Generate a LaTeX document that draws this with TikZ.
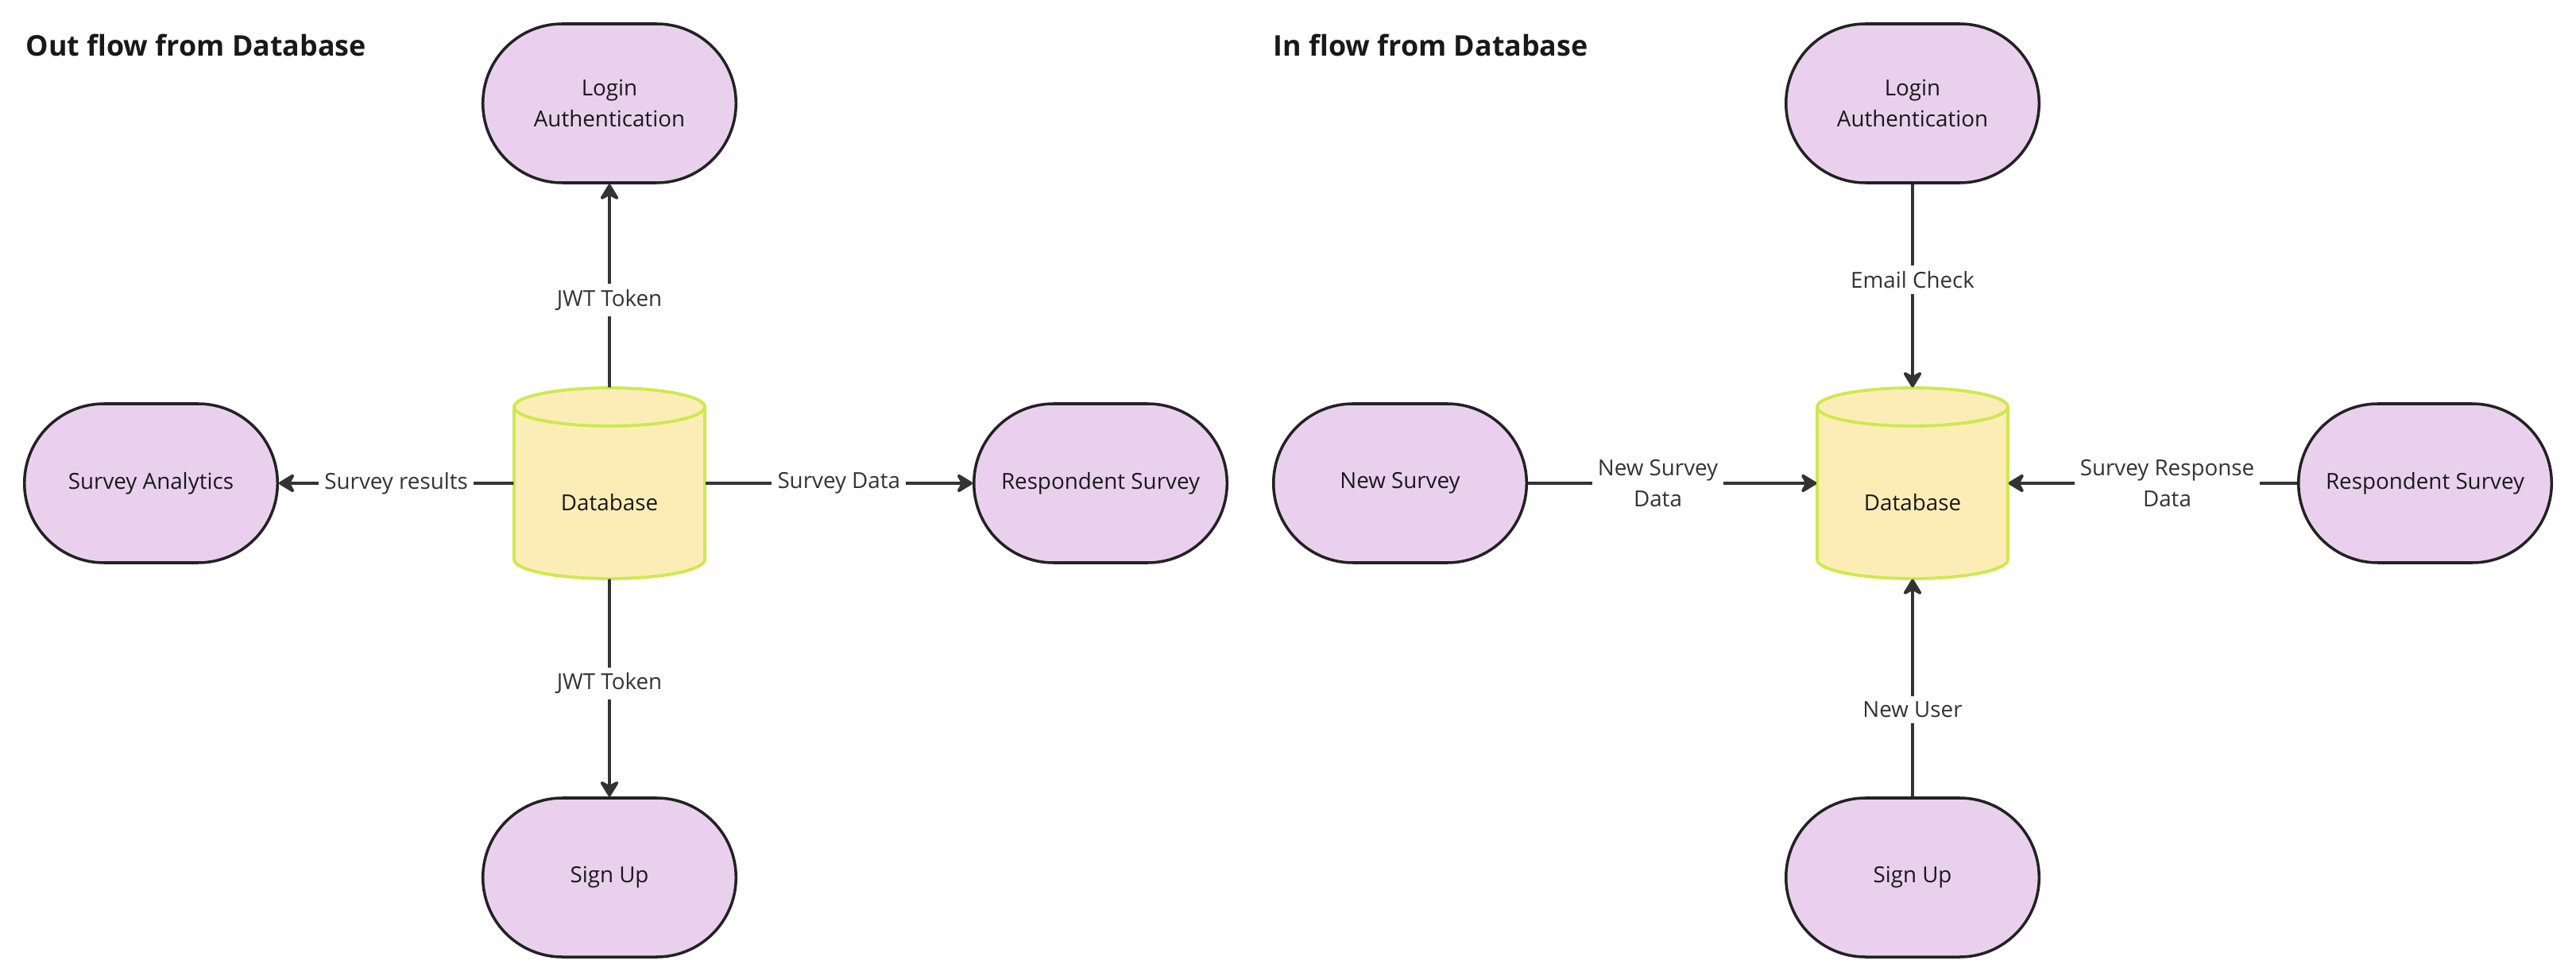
\documentclass[tikz,border=0pt]{standalone}
\usepackage{fontspec}
\setmainfont{Open Sans}
\usetikzlibrary{arrows.meta,shapes.misc}

\definecolor{procfill}{HTML}{E9D1EE}
\definecolor{procline}{HTML}{222222}
\definecolor{cylfill}{HTML}{FCEDB7}
\definecolor{cylborder}{HTML}{CDE94F}
\definecolor{flowline}{HTML}{333333}

\newcommand{\dbcylinder}[2]{%
  \begin{scope}[shift={(#2)}]
    \draw[dbshape] (-1.2,0.96) -- (-1.2,-0.96) arc[start angle=180,end angle=360,x radius=1.2,y radius=0.24]
      -- (1.2,0.96) arc[start angle=0,end angle=180,x radius=1.2,y radius=0.24] -- cycle;
    \draw[dbshape,fill=none] (-1.2,0.96) arc[start angle=180,end angle=360,x radius=1.2,y radius=0.24];
  \end{scope}
  \node[dbnode] (#1) at (#2) {};
  \node[dbtext] (#1text) at ([yshift=-2.4mm]#1.center) {Database};
}

\begin{document}
\begin{tikzpicture}[
  proc/.style={rounded rectangle, draw=procline, fill=procfill, line width=1pt,
    minimum width=3.42cm, minimum height=2cm, align=center,
    font=\fontsize{7.9}{11}\selectfont, text=black!90},
  dbshape/.style={draw=cylborder, fill=cylfill, line width=1.1pt},
  dbnode/.style={minimum width=2.4cm, minimum height=2.4cm, inner sep=0pt},
  dbtext/.style={inner sep=0pt, font=\fontsize{7.9}{11}\selectfont, text=black!90},
  flow/.style={draw=flowline, line width=1.1pt, -{Stealth[round,length=2.4mm,width=2.9mm,inset=0.8mm]}},
  lbl/.style={fill=white, inner sep=2pt, align=center, font=\fontsize{7.9}{11}\selectfont, text=flowline},
  heading/.style={anchor=base west, inner sep=0pt, font=\fontsize{10.2}{12}\selectfont\bfseries, text=black!90}
]
\useasboundingbox (0,0) rectangle (32.42,-12.33);

\node[heading] (outtitle) at (0.32,-0.71) {Out flow from Database};
\node[proc] (login1) at (7.67,-1.30) {Login\\Authentication};
\node[proc] (analytics) at (1.90,-6.08) {Survey Analytics};
\dbcylinder{db1}{7.67,-6.08}
\node[proc] (resp1) at (13.85,-6.08) {Respondent Survey};
\node[proc] (signup1) at (7.67,-11.04) {Sign Up};
\draw[flow] (db1) -- node[lbl, pos=0.43] {JWT Token} (login1);
\draw[flow] (db1) -- node[lbl] {Survey results} (analytics);
\draw[flow] (db1) -- node[lbl] {Survey Data} (resp1);
\draw[flow] (db1) -- node[lbl, pos=0.48] {JWT Token} (signup1);

\node[heading] (intitle) at (16.02,-0.71) {In flow from Database};
\node[proc] (login2) at (24.07,-1.30) {Login\\Authentication};
\node[proc] (newsurvey) at (17.62,-6.08) {New Survey};
\dbcylinder{db2}{24.07,-6.08}
\node[proc] (resp2) at (30.52,-6.08) {Respondent Survey};
\node[proc] (signup2) at (24.07,-11.04) {Sign Up};
\draw[flow] (login2) -- node[lbl, pos=0.47] {Email Check} (db2);
\draw[flow] (newsurvey) -- node[lbl, pos=0.45] {New Survey\\Data} (db2);
\draw[flow] (resp2) -- node[lbl, pos=0.45] {Survey Response\\Data} (db2);
\draw[flow] (signup2) -- node[lbl, pos=0.4] {New User} (db2);
\end{tikzpicture}
\end{document}
